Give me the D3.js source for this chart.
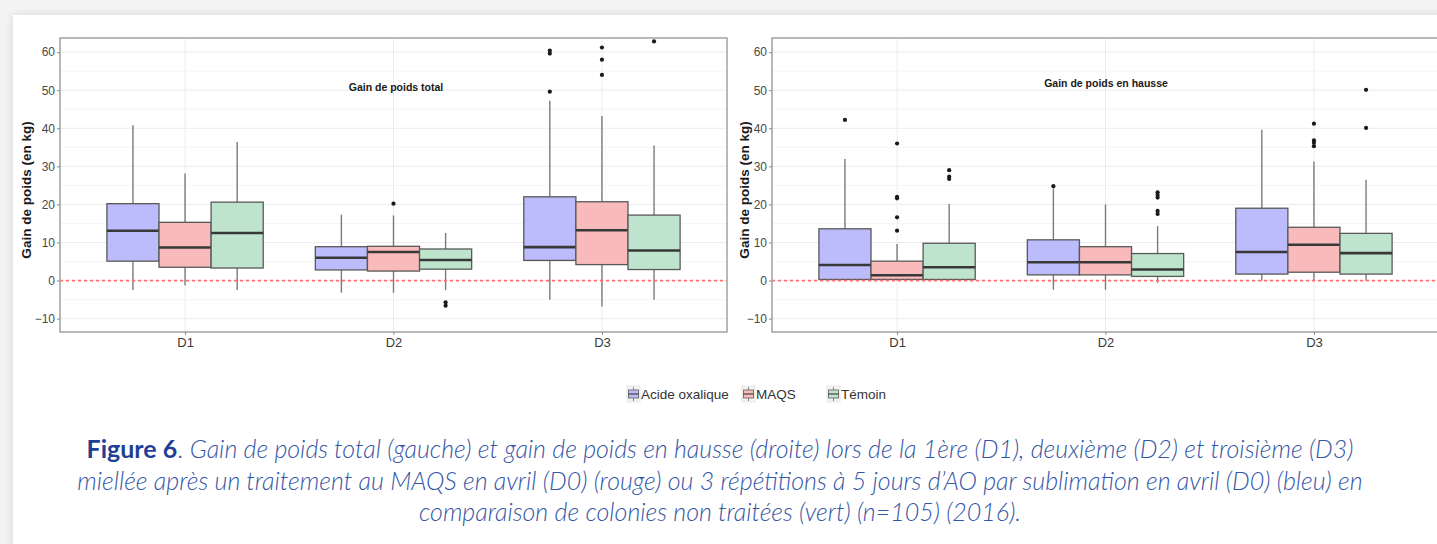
<!DOCTYPE html>
<html>
<head>
<meta charset="utf-8">
<script src="https://cdn.jsdelivr.net/npm/d3@7"></script>
<style>
  html, body { margin: 0; padding: 0; background: #f3f3f3; }
  svg { display: block; }
</style>
</head>
<body>
<svg id="fig" width="1437" height="544"></svg>
<script>
// ---- data ---------------------------------------------------------------
const days = ["D1", "D2", "D3"];
const treatments = ["Acide oxalique", "MAQS", "Témoin"];
const yTicks = [-10, 0, 10, 20, 30, 40, 50, 60];
const panelTitles = ["Gain de poids total", "Gain de poids en hausse"];

// Box statistics, ordered D1 (AO, MAQS, Témoin), D2 (...), D3 (...)
// Gain de poids total
const totalLow    = [-2.5, -1.3, -2.5,  -3.2, -3.2, -2.5,  -5.0, -6.8, -5.0];
const totalQ1     = [ 5.1,  3.5,  3.3,   2.8,  2.5,  3.0,   5.3,  4.2,  2.9];
const totalMedian = [13.1,  8.7, 12.5,   6.0,  7.5,  5.4,   8.8, 13.2,  7.9];
const totalQ3     = [20.2, 15.3, 20.6,   8.9,  9.0,  8.3,  22.0, 20.7, 17.2];
const totalHigh   = [40.8, 28.1, 36.4,  17.3, 17.1, 12.5,  47.2, 43.2, 35.5];
const totalOutliers = [[], [], [], [], [20.2], [-5.7, -6.6],
                       [60.4, 59.6, 49.6], [61.2, 58.0, 54.0], [62.8]];

// Gain de poids en hausse
const riseLow    = [ 0.0,  0.0,  0.0,  -2.4, -2.4, -0.6,   0.0,  0.0,  0.0];
const riseQ1     = [ 0.3,  0.3,  0.3,   1.5,  1.5,  1.1,   1.7,  2.2,  1.7];
const riseMedian = [ 4.1,  1.4,  3.5,   4.8,  4.8,  2.9,   7.5,  9.4,  7.2];
const riseQ3     = [13.6,  5.1,  9.8,  10.7,  8.9,  7.1,  19.0, 14.0, 12.4];
const riseHigh   = [31.9,  9.6, 20.1,  24.2, 20.0, 14.3,  39.6, 31.3, 26.5];
const riseOutliers = [[42.2], [36.0, 22.0, 21.6, 16.6, 13.1], [29.0, 27.3, 26.7],
                      [24.8], [], [23.2, 22.5, 21.8, 18.3, 17.5],
                      [], [41.2, 36.8, 36.2, 35.3], [50.1, 40.1]];

const captionLines = [
  "Gain de poids total (gauche) et gain de poids en hausse (droite) lors de la 1ère (D1), deuxième (D2) et troisième (D3)",
  "miellée après un traitement au MAQS en avril (D0) (rouge) ou 3 répétitions à 5 jours d’AO par sublimation en avril (D0) (bleu) en",
  "comparaison de colonies non traitées (vert) (n=105) (2016)."
];

// ---- styling --------------------------------------------------------------
const fillColor = d3.scaleOrdinal().domain(treatments)
  .range(["#bcbcfd", "#f8baba", "#bfe4cd"]);
const FONT = "'Liberation Sans', Arial, sans-serif";

const svg = d3.select("#fig");

// card
const defs = svg.append("defs");
const shadow = defs.append("filter").attr("id", "cardShadow")
  .attr("x", "-5%").attr("y", "-5%").attr("width", "110%").attr("height", "110%");
shadow.append("feGaussianBlur").attr("in", "SourceAlpha").attr("stdDeviation", 4);
shadow.append("feComponentTransfer").append("feFuncA").attr("type", "linear").attr("slope", 0.12);
const merge = shadow.append("feMerge");
merge.append("feMergeNode");
merge.append("feMergeNode").attr("in", "SourceGraphic");

svg.append("rect").attr("x", 13).attr("y", 15).attr("width", 1460).attr("height", 560)
  .attr("fill", "#ffffff").attr("filter", "url(#cardShadow)");

// ---- panels ---------------------------------------------------------------
const panels = [
  { x0: 60,  x1: 727,  title: panelTitles[0], titleX: 396,  titleY: 91,
    low: totalLow, q1: totalQ1, med: totalMedian, q3: totalQ3, high: totalHigh, out: totalOutliers,
    axisTitleX: 30 },
  { x0: 772, x1: 1439, title: panelTitles[1], titleX: 1106, titleY: 87,
    low: riseLow, q1: riseQ1, med: riseMedian, q3: riseQ3, high: riseHigh, out: riseOutliers,
    axisTitleX: 748 }
];
const plotTop = 38, plotBottom = 332;

panels.forEach((p, pi) => {
  const y = d3.scaleLinear().domain([-13.5, 63.7]).range([plotBottom, plotTop]);
  const x = d3.scalePoint().domain(days).range([p.x0, p.x1]).padding(0.6);
  const dodge = d3.scaleBand().domain(treatments)
    .range([-0.375 * x.step(), 0.375 * x.step()]).padding(0);

  const clipId = "clip" + pi;
  defs.append("clipPath").attr("id", clipId)
    .append("rect").attr("x", p.x0).attr("y", plotTop)
    .attr("width", p.x1 - p.x0).attr("height", plotBottom - plotTop);

  const g = svg.append("g");
  const inner = g.append("g").attr("clip-path", `url(#${clipId})`);

  // grid
  const minor = d3.range(-15, 66, 10);
  inner.selectAll("line.minor").data(minor).join("line")
    .attr("x1", p.x0).attr("x2", p.x1)
    .attr("y1", d => y(d)).attr("y2", d => y(d))
    .attr("stroke", "#f5f5f5").attr("stroke-width", 1);
  inner.selectAll("line.major").data(yTicks).join("line")
    .attr("x1", p.x0).attr("x2", p.x1)
    .attr("y1", d => y(d)).attr("y2", d => y(d))
    .attr("stroke", "#ececec").attr("stroke-width", 1);
  inner.selectAll("line.vgrid").data(days).join("line")
    .attr("x1", d => x(d)).attr("x2", d => x(d))
    .attr("y1", plotTop).attr("y2", plotBottom)
    .attr("stroke", "#ececec").attr("stroke-width", 1);

  // boxes
  const rows = [];
  days.forEach((day, di) => treatments.forEach((t, ti) => {
    const i = di * 3 + ti;
    rows.push({ day, t, low: p.low[i], q1: p.q1[i], med: p.med[i], q3: p.q3[i],
                high: p.high[i], out: p.out[i] });
  }));
  const cx = d => x(d.day) + dodge(d.t) + dodge.bandwidth() / 2;

  const box = inner.selectAll("g.box").data(rows).join("g");
  box.append("line")
    .attr("x1", cx).attr("x2", cx)
    .attr("y1", d => y(d.high)).attr("y2", d => y(d.q3))
    .attr("stroke", "#7a7a7a").attr("stroke-width", 1.4);
  box.append("line")
    .attr("x1", cx).attr("x2", cx)
    .attr("y1", d => y(d.q1)).attr("y2", d => y(d.low))
    .attr("stroke", "#7a7a7a").attr("stroke-width", 1.4);
  box.append("rect")
    .attr("x", d => x(d.day) + dodge(d.t))
    .attr("width", dodge.bandwidth())
    .attr("y", d => y(d.q3))
    .attr("height", d => y(d.q1) - y(d.q3))
    .attr("fill", d => fillColor(d.t))
    .attr("stroke", "#595959").attr("stroke-width", 1.3);
  box.append("line")
    .attr("x1", d => x(d.day) + dodge(d.t)).attr("x2", d => x(d.day) + dodge(d.t) + dodge.bandwidth())
    .attr("y1", d => y(d.med)).attr("y2", d => y(d.med))
    .attr("stroke", "#383838").attr("stroke-width", 2.6);
  box.selectAll("circle").data(d => d.out.map(v => ({ v, d }))).join("circle")
    .attr("cx", o => cx(o.d)).attr("cy", o => y(o.v)).attr("r", 2.1)
    .attr("fill", "#1a1a1a");

  // zero reference line
  inner.append("line")
    .attr("x1", p.x0).attr("x2", p.x1)
    .attr("y1", y(0)).attr("y2", y(0))
    .attr("stroke", "#ff7070").attr("stroke-width", 1.6)
    .attr("stroke-dasharray", "3,3");

  // frame
  g.append("rect").attr("x", p.x0).attr("y", plotTop)
    .attr("width", p.x1 - p.x0).attr("height", plotBottom - plotTop)
    .attr("fill", "none").attr("stroke", "#a3a3a3").attr("stroke-width", 1.5);

  // axes
  const yAxis = g.append("g").attr("transform", `translate(${p.x0},0)`)
    .call(d3.axisLeft(y).tickValues(yTicks).tickSize(3).tickPadding(2));
  yAxis.select(".domain").remove();
  yAxis.selectAll(".tick line").attr("stroke", "#8a8a8a");
  yAxis.selectAll(".tick text").attr("fill", "#4a4a4a")
    .style("font-family", FONT).style("font-size", "12px");

  const xAxis = g.append("g").attr("transform", `translate(0,${plotBottom})`)
    .call(d3.axisBottom(x).tickSize(3).tickPadding(3));
  xAxis.select(".domain").remove();
  xAxis.selectAll(".tick line").attr("stroke", "#8a8a8a");
  xAxis.selectAll(".tick text").attr("fill", "#3a3a3a")
    .style("font-family", FONT).style("font-size", "13px");

  // titles
  g.append("text").attr("x", p.titleX).attr("y", p.titleY)
    .attr("text-anchor", "middle")
    .style("font-family", FONT).style("font-size", "10.5px").style("font-weight", "bold")
    .attr("fill", "#1a1a1a").text(p.title);

  g.append("text")
    .attr("transform", `translate(${p.axisTitleX + 1},${(plotTop + plotBottom) / 2 + 5}) rotate(-90)`)
    .attr("text-anchor", "middle")
    .style("font-family", FONT).style("font-size", "13.5px").style("font-weight", "bold")
    .attr("fill", "#1a1a1a").text("Gain de poids (en kg)");
});

// ---- legend ----------------------------------------------------------------
const legendX = [627, 742, 827];
const legend = svg.append("g");
treatments.forEach((t, i) => {
  const lx = legendX[i], ly = 386;
  const k = legend.append("g");
  k.append("rect").attr("x", lx).attr("y", ly).attr("width", 13).attr("height", 16)
    .attr("fill", "#f4f4f4").attr("stroke", "#e2e2e2").attr("stroke-width", 0.8);
  k.append("line").attr("x1", lx + 6.5).attr("x2", lx + 6.5).attr("y1", ly + 1).attr("y2", ly + 15)
    .attr("stroke", "#8a8a8a").attr("stroke-width", 1);
  k.append("rect").attr("x", lx + 1.5).attr("y", ly + 4).attr("width", 10).attr("height", 8)
    .attr("fill", fillColor(t)).attr("stroke", "#6a6a6a").attr("stroke-width", 0.9);
  k.append("line").attr("x1", lx + 1.5).attr("x2", lx + 11.5).attr("y1", ly + 8).attr("y2", ly + 8)
    .attr("stroke", "#444").attr("stroke-width", 1.2);
  legend.append("text").attr("x", lx + 14).attr("y", ly + 13)
    .style("font-family", FONT).style("font-size", "13.5px")
    .attr("fill", "#333").text(t);
});

// ---- caption -----------------------------------------------------------------
const CAP_FONT = "Lato, 'Open Sans', sans-serif";
const capCenter = 720;
const capBaselines = [458, 490, 521];
const caption = svg.append("g");
const capTexts = captionLines.map((line, i) => {
  const t = caption.append("text")
    .attr("x", capCenter).attr("y", capBaselines[i])
    .attr("text-anchor", "middle")
    .style("font-family", CAP_FONT).style("font-size", "20px")
    .style("font-weight", 300)
    .attr("fill", "#3556a6");
  if (i === 0) {
    t.append("tspan").style("font-weight", 700).attr("fill", "#1e3f95").text("Figure 6");
    t.append("tspan").text(". ");
    t.append("tspan").style("font-style", "italic").text(line);
  } else {
    t.append("tspan").style("font-style", "italic").text(line);
  }
  return t;
});
// size the caption so the second line spans its column width
const targetWidth = 1286;
const measured = capTexts[1].node().getComputedTextLength();
const capSize = 20 * targetWidth / measured;
capTexts.forEach(t => t.style("font-size", capSize + "px"));
</script>
</body>
</html>
